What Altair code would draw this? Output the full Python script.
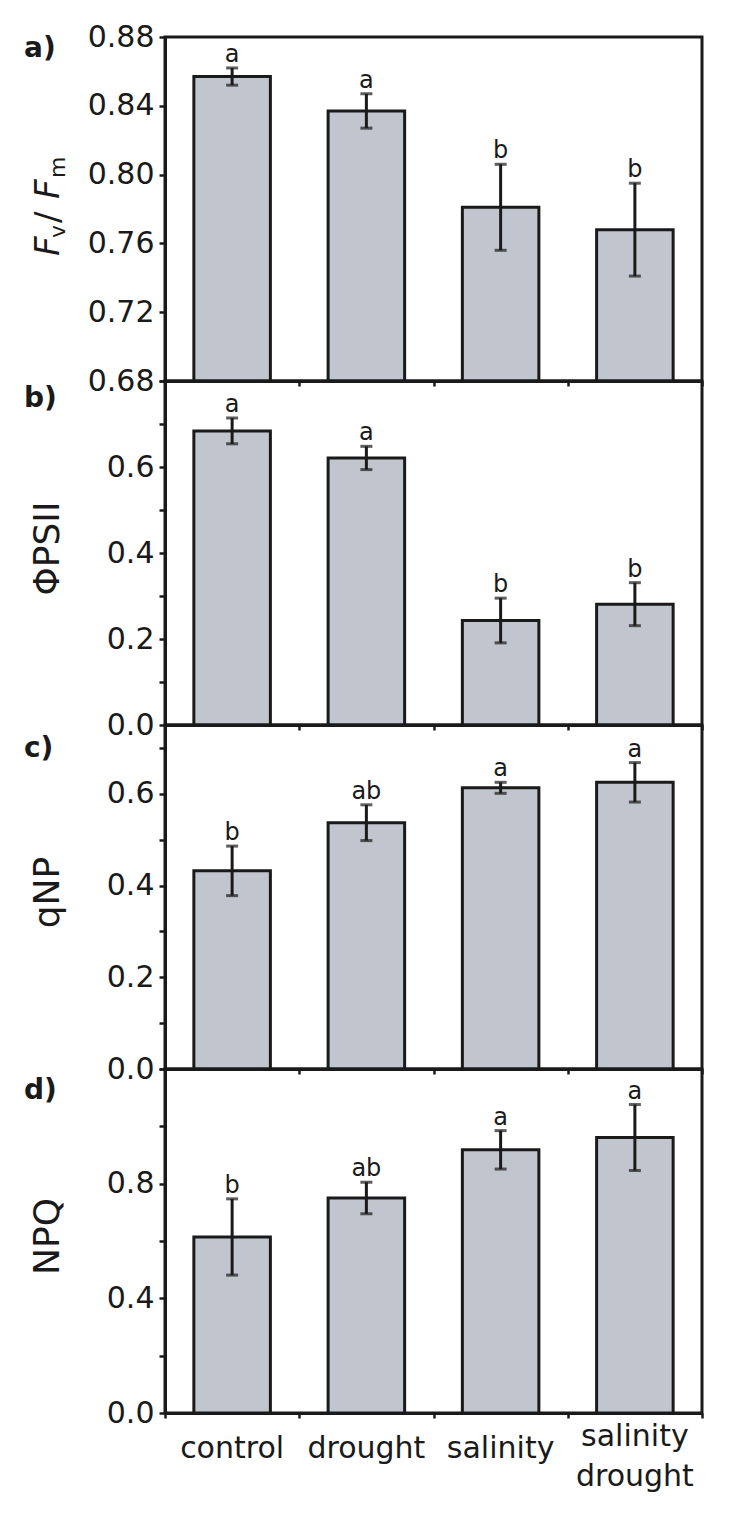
import altair as alt
import pandas as pd

categories = ["control", "drought", "salinity", "salinity drought"]

fvfm = [0.857, 0.837, 0.781, 0.768]
fvfm_err = [0.005, 0.010, 0.025, 0.027]
fvfm_sig = ["a", "a", "b", "b"]

phipsii = [0.684, 0.621, 0.243, 0.281]
phipsii_err = [0.030, 0.027, 0.052, 0.050]
phipsii_sig = ["a", "a", "b", "b"]

qnp = [0.432, 0.537, 0.613, 0.625]
qnp_err = [0.054, 0.039, 0.012, 0.043]
qnp_sig = ["b", "ab", "a", "a"]

npq = [0.614, 0.750, 0.918, 0.961]
npq_err = [0.133, 0.055, 0.067, 0.115]
npq_sig = ["b", "ab", "a", "a"]

panel_letters = ["a)", "b)", "c)", "d)"]
y_titles = ["", "ΦPSII", "qNP", "NPQ"]
y_domains = [[0.68, 0.88], [0.0, 0.8], [0.0, 0.75], [0.0, 1.2]]
y_ticks = [
    [0.68, 0.70, 0.72, 0.74, 0.76, 0.78, 0.80, 0.82, 0.84, 0.86, 0.88],
    [0.0, 0.1, 0.2, 0.3, 0.4, 0.5, 0.6, 0.7, 0.8],
    [0.0, 0.1, 0.2, 0.3, 0.4, 0.5, 0.6, 0.7],
    [0.0, 0.2, 0.4, 0.6, 0.8, 1.0, 1.2],
]
label_exprs = [
    "round(datum.value*100) % 4 == 0 ? format(datum.value, '.2f') : ''",
    "(round(datum.value*10) % 2 == 0 && datum.value < 0.75) ? format(datum.value, '.1f') : ''",
    "round(datum.value*10) % 2 == 0 ? format(datum.value, '.1f') : ''",
    "(round(datum.value*10) % 4 == 0 && datum.value < 1.1) ? format(datum.value, '.1f') : ''",
]

INK = "#1a1a1a"
FILL = "#c1c6ce"
FONT = "DejaVu Sans"
W, H = 537, 344
SW = 3
letter_y = [12, 18, 24, 22]


def panel(i, vals, errs, sigs, bottom):
    df = pd.DataFrame({
        "cat": categories,
        "v": vals,
        "lo": [v - e for v, e in zip(vals, errs)],
        "hi": [v + e for v, e in zip(vals, errs)],
        "sig": sigs,
    })
    base = alt.Chart(df)
    xaxis = alt.Axis(tickBand="extent", labels=False, title=None, tickSize=5)
    x = alt.X("cat:N", sort=categories, axis=xaxis,
              scale=alt.Scale(paddingInner=0, paddingOuter=0))
    xs = alt.X("cat:N", sort=categories)
    yscale = alt.Scale(domain=y_domains[i], nice=False, zero=False)
    yaxis_kwargs = dict(values=y_ticks[i], labelExpr=label_exprs[i], tickSize=6,
                        labelPadding=5, labelOverlap=False, labelFontSize=30)
    if y_titles[i]:
        yaxis = alt.Axis(title=y_titles[i], titleX=-118, titleY=H / 2 - 5, titleAngle=270,
                         titleAlign="center", titleBaseline="middle", titleFontSize=36,
                         titleFont=FONT, titleFontWeight="normal", titleColor=INK,
                         **yaxis_kwargs)
    else:
        yaxis = alt.Axis(title=None, **yaxis_kwargs)

    bars = base.mark_bar(fill=FILL, stroke=INK, strokeWidth=SW,
                         width=alt.RelativeBandSize(0.57)).encode(
        x=x,
        y=alt.Y("v:Q", scale=yscale, axis=yaxis),
        y2=alt.datum(y_domains[i][0]),
    )
    rule = base.mark_rule(color=INK, strokeWidth=SW).encode(x=xs, y="lo:Q", y2="hi:Q")
    cap_lo = base.mark_tick(color=INK, size=12, thickness=3).encode(x=xs, y="lo:Q")
    cap_hi = base.mark_tick(color=INK, size=12, thickness=3).encode(x=xs, y="hi:Q")
    sig = base.mark_text(font=FONT, fontSize=24, color=INK, dy=-6,
                         baseline="alphabetic").encode(x=xs, y="hi:Q", text="sig:N")
    lab = alt.Chart(pd.DataFrame({"t": [panel_letters[i]]})).mark_text(
        font=FONT, fontWeight="bold", fontSize=28, align="left", baseline="middle",
        color=INK).encode(x=alt.value(-141), y=alt.value(letter_y[i]), text="t:N")
    layers = [bars, rule, cap_lo, cap_hi, sig, lab]

    if bottom:
        single = base.transform_filter("indexof(datum.cat, ' ') < 0").mark_text(
            font=FONT, fontSize=30, color=INK, baseline="middle").encode(
            x=xs, y=alt.value(H + 36), text="cat:N")
        multi = base.transform_filter("indexof(datum.cat, ' ') >= 0").mark_text(
            font=FONT, fontSize=30, color=INK, baseline="middle", lineBreak=" ",
            lineHeight=40).encode(x=xs, y=alt.value(H + 24), text="cat:N")
        layers += [single, multi]

    if i == 0:
        pieces = [
            ("F", 34, "italic", -106, 219),
            ("v", 22, "normal", -100, 201),
            ("/", 34, "normal", -106, 186),
            ("F", 34, "italic", -106, 162),
            ("m", 22, "normal", -100, 141),
        ]
        for t, fs, st, px, py in pieces:
            layers.append(
                alt.Chart(pd.DataFrame({"t": [t]})).mark_text(
                    font=FONT, fontSize=fs, fontStyle=st, angle=270, align="left",
                    baseline="alphabetic", color=INK).encode(
                    x=alt.value(px), y=alt.value(py), text="t:N"))

    return alt.layer(*layers).properties(width=W, height=H)


chart = alt.vconcat(
    panel(0, fvfm, fvfm_err, fvfm_sig, False),
    panel(1, phipsii, phipsii_err, phipsii_sig, False),
    panel(2, qnp, qnp_err, qnp_sig, False),
    panel(3, npq, npq_err, npq_sig, True),
    spacing=0,
    bounds="flush",
).properties(
    padding={"left": 14, "top": 12, "right": 5, "bottom": 5}
).configure_axis(
    labelFont=FONT, labelColor=INK, domainColor=INK, domainWidth=SW,
    tickColor=INK, tickWidth=2.5, grid=False,
).configure_view(
    stroke=INK, strokeWidth=SW,
)

chart.save("out.html", embed_options={"renderer": "svg", "actions": False})
